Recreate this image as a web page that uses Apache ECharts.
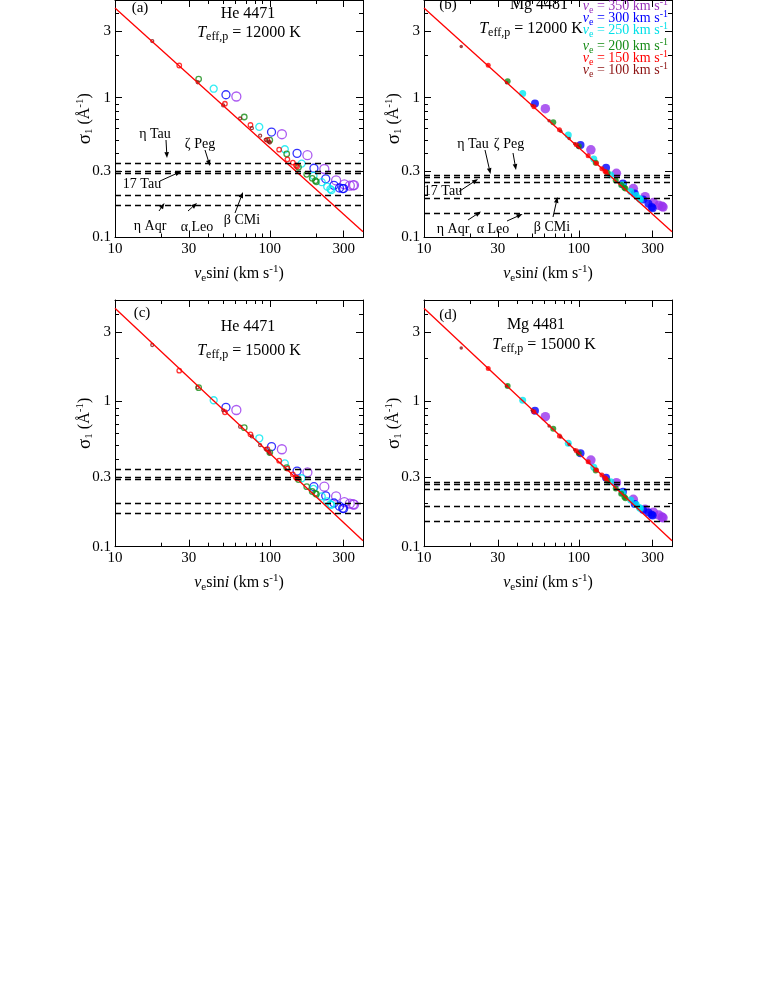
<!DOCTYPE html>
<html>
<head>
<meta charset="utf-8">
<script src="https://cdn.jsdelivr.net/npm/echarts@6/dist/echarts.min.js"></script>
<style>
html, body { margin: 0; background: #fff; }
#chart { width: 763px; height: 987px; }
</style>
</head>
<body>
<div id="chart"></div>
<script>
// v_e sin i for i = 10..90 deg
const vsini100 = [17.4, 34.2, 50.0, 64.3, 76.6, 86.6, 94.0, 98.5, 100];
const vsini150 = [26.0, 51.3, 75.0, 96.4, 114.9, 129.9, 141.0, 147.7, 150];
const vsini200 = [34.7, 68.4, 100, 128.6, 153.2, 173.2, 187.9, 197.0, 200];
const vsini250 = [43.4, 85.5, 125, 160.7, 191.5, 216.5, 234.9, 246.2, 250];
const vsini300 = [52.1, 102.6, 150, 192.8, 229.8, 259.8, 281.9, 295.4, 300];
const vsini350 = [60.8, 119.7, 175, 225.0, 268.1, 303.1, 328.9, 344.7, 350];

// sigma_1 (1/A), He 4471, Teff,p = 12000 K
const he12_100 = [2.54, 1.29, 0.88, 0.71, 0.605, 0.535, 0.50, 0.485, 0.478];
const he12_150 = [1.70, 0.905, 0.638, 0.50, 0.425, 0.362, 0.343, 0.328, 0.322];
const he12_200 = [1.36, 0.728, 0.497, 0.396, 0.318, 0.283, 0.265, 0.255, 0.25];
const he12_250 = [1.16, 0.618, 0.428, 0.338, 0.276, 0.249, 0.231, 0.222, 0.218];
const he12_300 = [1.05, 0.568, 0.40, 0.313, 0.263, 0.236, 0.226, 0.224, 0.224];
const he12_350 = [1.02, 0.548, 0.388, 0.309, 0.256, 0.24, 0.235, 0.236, 0.237];
// Mg 4481, 12000 K
const mg12_100 = [2.32, 1.28, 0.88, 0.684, 0.575, 0.51, 0.468, 0.447, 0.44];
const mg12_150 = [1.71, 0.86, 0.589, 0.46, 0.385, 0.34, 0.31, 0.298, 0.293];
const mg12_200 = [1.31, 0.667, 0.45, 0.343, 0.29, 0.256, 0.237, 0.227, 0.224];
const mg12_250 = [1.07, 0.542, 0.365, 0.28, 0.238, 0.213, 0.20, 0.19, 0.187];
const mg12_300 = [0.91, 0.459, 0.315, 0.243, 0.206, 0.187, 0.174, 0.165, 0.162];
const mg12_350 = [0.835, 0.424, 0.288, 0.224, 0.196, 0.178, 0.17, 0.167, 0.165];
// He 4471, 15000 K
const he15_100 = [2.45, 1.25, 0.87, 0.67, 0.575, 0.50, 0.47, 0.45, 0.44];
const he15_150 = [1.63, 0.843, 0.594, 0.469, 0.391, 0.345, 0.315, 0.30, 0.296];
const he15_200 = [1.245, 0.66, 0.445, 0.35, 0.29, 0.259, 0.24, 0.233, 0.23];
const he15_250 = [1.02, 0.558, 0.375, 0.296, 0.25, 0.222, 0.205, 0.196, 0.194];
const he15_300 = [0.912, 0.489, 0.332, 0.259, 0.224, 0.20, 0.19, 0.184, 0.183];
const he15_350 = [0.874, 0.469, 0.325, 0.259, 0.222, 0.203, 0.198, 0.196, 0.195];
// Mg 4481, 15000 K
const mg15_100 = [2.34, 1.28, 0.87, 0.678, 0.57, 0.505, 0.465, 0.445, 0.438];
const mg15_150 = [1.69, 0.85, 0.578, 0.458, 0.385, 0.338, 0.312, 0.298, 0.293];
const mg15_200 = [1.28, 0.65, 0.44, 0.335, 0.285, 0.252, 0.232, 0.22, 0.216];
const mg15_250 = [1.02, 0.515, 0.352, 0.28, 0.235, 0.21, 0.195, 0.186, 0.183];
const mg15_300 = [0.865, 0.44, 0.299, 0.239, 0.197, 0.18, 0.172, 0.166, 0.164];
const mg15_350 = [0.786, 0.395, 0.276, 0.212, 0.181, 0.173, 0.165, 0.16, 0.158];

// red reference line and star levels
const fitV = [10, 400];
const fitSigma = [4.39, 0.11];
const heStarLevels = [0.34, 0.305, 0.288, 0.201, 0.172];
const mgStarLevels = [0.28, 0.267, 0.253, 0.191, 0.152];

const xMajor = [10, 30, 100, 300];
const xMinor = [20, 40, 50, 60, 70, 80, 90, 200, 400];
const yMajor = [0.1, 0.3, 1, 3];
const yMinor = [0.2, 0.4, 0.5, 0.6, 0.7, 0.8, 0.9, 2, 4, 5];

const veLabels = ['350', '300', '250', '200', '150', '100'];
const veColors = ['#9933ee', '#0000ff', '#00e8f0', '#178c17', '#ff0000', '#8b1111'];
const veTextColors = ['#9933bb', '#0000ff', '#00e0e8', '#178c17', '#ff0000', '#8b1111'];
const vsiniSets = [vsini350, vsini300, vsini250, vsini200, vsini150, vsini100];
const panelSigma = [
  [he12_350, he12_300, he12_250, he12_200, he12_150, he12_100],
  [mg12_350, mg12_300, mg12_250, mg12_200, mg12_150, mg12_100],
  [he15_350, he15_300, he15_250, he15_200, he15_150, he15_100],
  [mg15_350, mg15_300, mg15_250, mg15_200, mg15_150, mg15_100]
];
const heSizes = [9, 8, 7, 5.5, 4.5, 3];
const mgSizes = [9.5, 8, 7, 6, 5, 3.5];

const serif = 'Liberation Serif';
const chart = echarts.init(document.getElementById('chart'));

const grids = [
  { left: 115, top: -8, width: 248, height: 245.5 },
  { left: 424, top: -8, width: 248, height: 245.5 },
  { left: 115, top: 300, width: 248, height: 246.7 },
  { left: 424, top: 300, width: 248, height: 246.7 }
];

function richSet(size) {
  return {
    n: { fontFamily: serif, fontSize: size, lineHeight: size + 4, color: '#000' },
    i: { fontFamily: serif, fontSize: size, lineHeight: size + 4, fontStyle: 'italic', color: '#000' },
    g: { fontFamily: serif, fontSize: size + 3, lineHeight: size + 4, color: '#000' },
    sub: { fontFamily: serif, fontSize: size - 5, lineHeight: size - 6, verticalAlign: 'bottom', color: '#000' },
    sup: { fontFamily: serif, fontSize: size - 5, lineHeight: size - 6, verticalAlign: 'top', color: '#000' }
  };
}

const xAxes = [], yAxes = [];
grids.forEach((g, gi) => {
  [['bottom', xMajor, 7], ['bottom', xMinor, 4], ['top', xMajor, 7], ['top', xMinor, 4]].forEach((a, k) => {
    xAxes.push({
      type: 'log', logBase: 10, min: 10, max: 400, gridIndex: gi, position: a[0],
      axisLine: { show: k % 2 === 0, onZero: false, lineStyle: { color: '#000', width: 1 } },
      axisTick: { show: true, inside: true, length: a[2], customValues: a[1], lineStyle: { color: '#000', width: 1 } },
      axisLabel: { show: k === 0, customValues: xMajor, margin: 4, color: '#000', fontFamily: serif, fontSize: 15, formatter: v => String(v) },
      splitLine: { show: false },
      name: k === 0 ? '{i|v}{sub|e}{n|sin}{i|i}{n| (km s}{sup|-1}{n|)}' : '',
      nameLocation: 'middle', nameGap: 26, nameMoveOverlap: false,
      nameTextStyle: { rich: richSet(16) }
    });
  });
  [['left', yMajor, 7], ['left', yMinor, 4], ['right', yMajor, 7], ['right', yMinor, 4]].forEach((a, k) => {
    yAxes.push({
      type: 'log', logBase: 10, min: 0.1, max: 5, gridIndex: gi, position: a[0],
      axisLine: { show: k % 2 === 0, onZero: false, lineStyle: { color: '#000', width: 1 } },
      axisTick: { show: true, inside: true, length: a[2], customValues: a[1], lineStyle: { color: '#000', width: 1 } },
      axisLabel: { show: k === 0, customValues: yMajor, margin: 4, color: '#000', fontFamily: serif, fontSize: 15, formatter: v => String(v) },
      splitLine: { show: false },
      name: k === 0 ? '{g|σ}{sub|1}{n| (Å}{sup|-1}{n|)}' : '',
      nameLocation: 'middle', nameGap: 20, nameRotate: 90, nameMoveOverlap: false,
      nameTextStyle: { rich: richSet(16) }
    });
  });
});

const series = [];
grids.forEach((g, gi) => {
  const isMg = gi % 2 === 1;
  veLabels.forEach((ve, s) => {
    const xs = vsiniSets[s], ys = panelSigma[gi][s];
    series.push({
      type: 'scatter', name: ve, xAxisIndex: gi * 4, yAxisIndex: gi * 4,
      data: xs.map((v, j) => [v, ys[j]]),
      symbol: 'circle',
      symbolSize: isMg ? mgSizes[s] : heSizes[s],
      itemStyle: isMg
        ? { color: veColors[s], borderWidth: 0 }
        : { color: 'rgba(255,255,255,0)', borderColor: veColors[s], borderWidth: 1.3 },
      z: 2 + s * 0.01
    });
  });
  series.push({
    type: 'line', xAxisIndex: gi * 4, yAxisIndex: gi * 4,
    data: fitV.map((v, j) => [v, fitSigma[j]]),
    symbol: 'none', lineStyle: { color: '#ff0000', width: 1.3 }, z: 3,
    markLine: {
      silent: true, symbol: 'none', label: { show: false },
      lineStyle: { color: '#000', width: 1.3, type: [6, 4] },
      data: (isMg ? mgStarLevels : heStarLevels).map(v => ({ yAxis: v }))
    }
  });
});

function txt(x, y, text, size, align, rich) {
  return {
    type: 'text', z: 10,
    style: { x, y, text, rich: rich || undefined, font: size + 'px "' + serif + '"', fill: '#000', textAlign: align || 'center', textVerticalAlign: 'middle' }
  };
}
function zrRich(size, color) {
  const c = color || '#000';
  return {
    n: { fontFamily: serif, fontSize: size, lineHeight: size + 4, fill: c },
    i: { fontFamily: serif, fontSize: size, lineHeight: size + 4, fontStyle: 'italic', fill: c },
    sub: { fontFamily: serif, fontSize: size - 4, lineHeight: size - 6, verticalAlign: 'bottom', fill: c },
    sup: { fontFamily: serif, fontSize: size - 4, lineHeight: size - 6, verticalAlign: 'top', fill: c }
  };
}
function arrow(x1, y1, x2, y2) {
  const a = Math.atan2(y2 - y1, x2 - x1), L = 6, W = 2.3;
  const bx = x2 - L * Math.cos(a), by = y2 - L * Math.sin(a);
  return [
    { type: 'line', z: 10, shape: { x1, y1, x2: bx, y2: by }, style: { stroke: '#000', lineWidth: 1 } },
    { type: 'polygon', z: 10, shape: { points: [[x2, y2], [bx - W * Math.sin(a), by + W * Math.cos(a)], [bx + W * Math.sin(a), by - W * Math.cos(a)]] }, style: { fill: '#000' } }
  ];
}

const graphic = [];
const panelTitles = [
  ['(a)', 140, 8, 'He 4471', 248, 14, '12000', 249, 33],
  ['(b)', 448, 5, 'Mg 4481', 539, 5, '12000', 531, 29],
  ['(c)', 142, 313, 'He 4471', 248, 327, '15000', 249, 351],
  ['(d)', 448, 315, 'Mg 4481', 536, 325, '15000', 544, 345]
];
panelTitles.forEach(p => {
  graphic.push(txt(p[1], p[2], p[0], 15));
  graphic.push(txt(p[4], p[5], p[3], 16));
  graphic.push(txt(p[7], p[8], '{i|T}{sub|eff,p}{n| = ' + p[6] + ' K}', 16, 'center', zrRich(16)));
});

// star labels with arrows, panels (a) and (b)
const starNotes = [
  ['η Tau', 155, 134, 166, 140, 167, 158], ['ζ Peg', 200, 144, 205, 150, 210, 166],
  ['17 Tau', 142, 184, 160, 181, 181, 171.5], ['η Aqr', 150, 226, 159, 211, 164.5, 203],
  ['α Leo', 197, 227, 188, 211, 197, 203], ['β CMi', 242, 220, 235, 213, 243, 192],
  ['η Tau', 473, 144, 485, 150, 490.5, 174], ['ζ Peg', 509, 144, 513, 153, 516, 170],
  ['17 Tau', 443, 191, 459, 191.5, 478, 179], ['η Aqr', 453, 229, 468, 220, 481, 211.5],
  ['α Leo', 493, 229, 507, 221, 522.5, 214], ['β CMi', 552, 227, 553, 217, 557.5, 197]
];
starNotes.forEach(s => {
  graphic.push(txt(s[1], s[2], s[0], 14));
  graphic.push(...arrow(s[3], s[4], s[5], s[6]));
});

// v_e legend in panel (b)
const legendY = [6, 18, 30, 46, 58, 70];
veLabels.forEach((ve, s) => {
  graphic.push(txt(668, legendY[s], '{i|v}{sub|e}{n| = ' + ve + ' km s}{sup|-1}', 14, 'right', zrRich(14, veTextColors[s])));
});

chart.setOption({
  animation: false,
  backgroundColor: '#fff',
  grid: grids,
  xAxis: xAxes,
  yAxis: yAxes,
  series: series,
  graphic: graphic
});
</script>
</body>
</html>
